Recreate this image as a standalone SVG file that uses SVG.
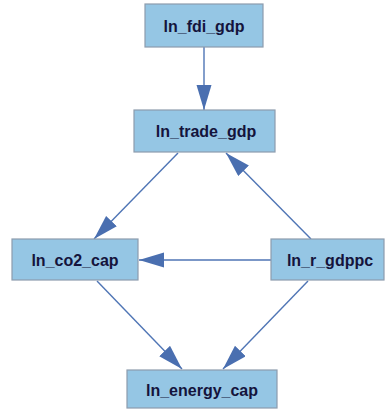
<svg xmlns="http://www.w3.org/2000/svg" width="385" height="412" viewBox="0 0 385 412">
<style>
.box{fill:#95c6e4;stroke:#8d9cad;stroke-width:1.2}
.lbl{font-family:"Liberation Sans",Arial,sans-serif;font-weight:bold;font-size:16px;fill:#14143c;text-anchor:middle}
.edge{stroke:#4f75b5;stroke-width:1.4;fill:none;marker-end:url(#ah)}
</style>
<defs>
<marker id="ah" markerUnits="userSpaceOnUse" markerWidth="26" markerHeight="16" refX="25" refY="7.5" orient="auto">
<path d="M0,0 L25,7.5 L0,15 z" fill="#4a6fb0"/>
</marker>
</defs>
<rect width="385" height="412" fill="#ffffff"/>
<g id="connectors">
<line class="edge" x1="204" y1="47" x2="204" y2="110"/>
<line class="edge" x1="178" y1="153" x2="94" y2="239"/>
<line class="edge" x1="311" y1="239" x2="226" y2="153"/>
<line class="edge" x1="271" y1="260" x2="139" y2="260"/>
<line class="edge" x1="97" y1="281" x2="182" y2="369"/>
<line class="edge" x1="308" y1="281" x2="223" y2="369"/>
</g>
<g id="ln_fdi_gdp">
<rect class="box" x="145" y="4" width="118" height="43"/>
<text class="lbl" x="204" y="32">ln_fdi_gdp</text>
</g>
<g id="ln_trade_gdp">
<rect class="box" x="134" y="110" width="141" height="42"/>
<text class="lbl" x="206" y="137">ln_trade_gdp</text>
</g>
<g id="ln_co2_cap">
<rect class="box" x="12" y="239" width="126" height="41"/>
<text class="lbl" x="75" y="266">ln_co2_cap</text>
</g>
<g id="ln_r_gdppc">
<rect class="box" x="271" y="239" width="113" height="41"/>
<text class="lbl" x="330" y="266">ln_r_gdppc</text>
</g>
<g id="ln_energy_cap">
<rect class="box" x="127" y="370" width="150" height="38"/>
<text class="lbl" x="202" y="396">ln_energy_cap</text>
</g>
</svg>
